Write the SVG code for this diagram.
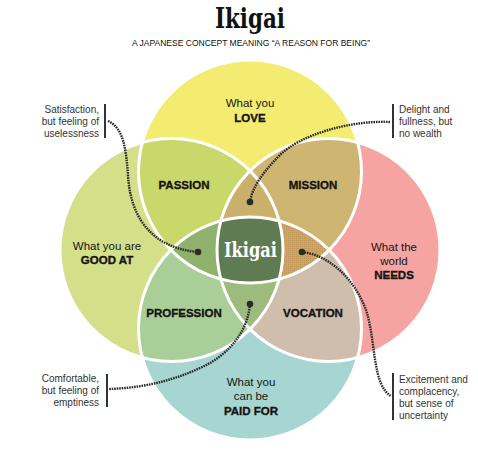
<svg xmlns="http://www.w3.org/2000/svg" width="478" height="451" viewBox="0 0 478 451">
<style>
.lab{font-family:"Liberation Sans",Arial,sans-serif;font-size:11.5px;fill:#151515;text-anchor:middle}
.b{font-weight:bold;stroke:#151515;stroke-width:0.35}
.ann{font-family:"Liberation Sans",Arial,sans-serif;font-size:10px;fill:#333}
.lead{fill:none;stroke:#2a2a2a;stroke-width:2.4;stroke-dasharray:1.6 0.9}
.bar{stroke:#333;stroke-width:2}
.edge{fill:none;stroke:#fff;stroke-width:3}
.dot{fill:#2a2a2a}
</style>
<defs>
<clipPath id="cT"><circle cx="250" cy="171.5" r="111.5"/></clipPath>
<clipPath id="cL"><circle cx="171.5" cy="250" r="111.5"/></clipPath>
<clipPath id="cR"><circle cx="328.5" cy="250" r="111.5"/></clipPath>
<clipPath id="cB"><circle cx="250" cy="328.5" r="111.5"/></clipPath>
<pattern id="hatch" width="2" height="2" patternUnits="userSpaceOnUse">
<rect width="2" height="2" fill="#cba767"/>
<rect width="1" height="1" fill="#c09759"/>
</pattern>
</defs>
<rect width="478" height="451" fill="#fff"/>

<g id="title">
<text x="250" y="28" text-anchor="middle" font-family="DejaVu Serif,serif" font-weight="bold" font-size="27" fill="#111" textLength="70" lengthAdjust="spacingAndGlyphs">Ikigai</text>
<text x="251" y="46" text-anchor="middle" font-family="Liberation Sans,Arial,sans-serif" font-size="8.5" fill="#111" textLength="238" lengthAdjust="spacingAndGlyphs">A JAPANESE CONCEPT MEANING “A REASON FOR BEING”</text>
</g>

<g id="venn">
<g id="circle-love"><circle cx="250" cy="171.5" r="111.5" fill="#f4ec70"/></g>
<g id="circle-good-at"><circle cx="171.5" cy="250" r="111.5" fill="#d4df8a"/></g>
<g id="circle-needs"><circle cx="328.5" cy="250" r="111.5" fill="#f6a4a1"/></g>
<g id="circle-paid-for"><circle cx="250" cy="328.5" r="111.5" fill="#a7d5d1"/></g>
<g id="passion-area" clip-path="url(#cT)"><circle cx="171.5" cy="250" r="111.5" fill="#c9d86a"/></g>
<g id="mission-area" clip-path="url(#cT)"><circle cx="328.5" cy="250" r="111.5" fill="#cfb572"/></g>
<g id="profession-area" clip-path="url(#cL)"><circle cx="250" cy="328.5" r="111.5" fill="#a9ce98"/></g>
<g id="vocation-area" clip-path="url(#cR)"><circle cx="250" cy="328.5" r="111.5" fill="#cfbeab"/></g>
<g clip-path="url(#cT)"><g clip-path="url(#cL)"><circle cx="328.5" cy="250" r="111.5" fill="#cbb06c"/></g></g>
<g clip-path="url(#cT)"><g clip-path="url(#cL)"><circle cx="250" cy="328.5" r="111.5" fill="#8fb16c"/></g></g>
<g clip-path="url(#cT)"><g clip-path="url(#cR)"><circle cx="250" cy="328.5" r="111.5" fill="url(#hatch)"/></g></g>
<g clip-path="url(#cL)"><g clip-path="url(#cR)"><circle cx="250" cy="328.5" r="111.5" fill="#9dbb7f"/></g></g>
<g id="ikigai-area" clip-path="url(#cT)"><g clip-path="url(#cL)"><g clip-path="url(#cR)"><circle cx="250" cy="328.5" r="111.5" fill="#5f7b52"/></g></g></g>
<circle class="edge" cx="250" cy="171.5" r="111.5"/>
<circle class="edge" cx="171.5" cy="250" r="111.5"/>
<circle class="edge" cx="328.5" cy="250" r="111.5"/>
<circle class="edge" cx="250" cy="328.5" r="111.5"/>
</g>

<g id="love"><text class="lab" x="250" y="107">What you</text><text class="lab b" x="250" y="122">LOVE</text></g>
<g id="good-at"><text class="lab" x="107" y="250">What you are</text><text class="lab b" x="107" y="264">GOOD AT</text></g>
<g id="needs"><text class="lab" x="394" y="251">What the</text><text class="lab" x="394" y="265">world</text><text class="lab b" x="394" y="279">NEEDS</text></g>
<g id="paid-for"><text class="lab" x="251" y="386">What you</text><text class="lab" x="251" y="400">can be</text><text class="lab b" x="251" y="415">PAID FOR</text></g>
<g id="passion"><text class="lab b" x="184" y="189">PASSION</text></g>
<g id="mission"><text class="lab b" x="313" y="189">MISSION</text></g>
<g id="profession"><text class="lab b" x="184" y="317">PROFESSION</text></g>
<g id="vocation"><text class="lab b" x="313" y="317">VOCATION</text></g>
<g id="ikigai"><text x="250.5" y="257" text-anchor="middle" font-family="DejaVu Serif,serif" font-weight="bold" font-size="21" fill="#fff" textLength="53" lengthAdjust="spacingAndGlyphs">Ikigai</text></g>

<g id="note-satisfaction">
<text class="ann" text-anchor="end"><tspan x="99" y="113">Satisfaction,</tspan><tspan x="99" y="125">but feeling of</tspan><tspan x="99" y="137">uselessness</tspan></text>
<line class="bar" x1="105" y1="104" x2="105" y2="138"/>
</g>
<g id="note-delight">
<text class="ann"><tspan x="399" y="113">Delight and</tspan><tspan x="399" y="125">fullness, but</tspan><tspan x="399" y="137">no wealth</tspan></text>
<line class="bar" x1="393" y1="104" x2="393" y2="138"/>
</g>
<g id="note-excitement">
<text class="ann"><tspan x="399" y="383">Excitement and</tspan><tspan x="399" y="395">complacency,</tspan><tspan x="399" y="407">but sense of</tspan><tspan x="399" y="419">uncertainty</tspan></text>
<line class="bar" x1="393" y1="373" x2="393" y2="420"/>
</g>
<g id="note-comfortable">
<text class="ann" text-anchor="end"><tspan x="99" y="382">Comfortable,</tspan><tspan x="99" y="394">but feeling of</tspan><tspan x="99" y="406">emptiness</tspan></text>
<line class="bar" x1="107" y1="374" x2="107" y2="407"/>
</g>

<g id="connectors">
<path class="lead" d="M108,121 C124,128 126,150 128,175 C130,215 150,248 198,252"/>
<circle class="dot" cx="198" cy="252" r="3.3"/>
<path class="lead" d="M390,122 C350,120 300,135 280,155 C262,173 252,188 250,202"/>
<circle class="dot" cx="250" cy="202" r="3.3"/>
<path class="lead" d="M302,252 C330,255 355,280 366,310 C376,340 372,385 391,396"/>
<circle class="dot" cx="302" cy="252" r="3.3"/>
<path class="lead" d="M250,304 C248,330 230,355 200,368 C170,382 140,388 109,389"/>
<circle class="dot" cx="250" cy="304" r="3.3"/>
</g>
</svg>
